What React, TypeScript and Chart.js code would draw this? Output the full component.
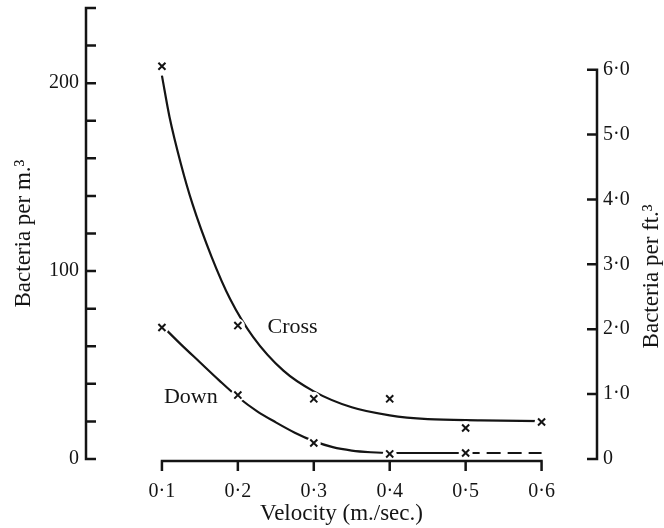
import React, { useEffect, useRef } from "react";
import { Chart, registerables } from "chart.js";
Chart.register(...registerables);

const FONT = "'Liberation Serif', 'Times New Roman', serif";
const INK = "#141414";

// Axis ticks
const velocityTicks = [0.1, 0.2, 0.3, 0.4, 0.5, 0.6];
const leftTicks = [0, 20, 40, 60, 80, 100, 120, 140, 160, 180, 200, 220, 240];
const rightTicks = [0, 1, 2, 3, 4, 5, 6];

// Observed points (x marks)
const crossVel = [0.1, 0.2, 0.3, 0.4, 0.5, 0.6];
const crossObs = [209, 71, 32, 32, 16.5, 19.7];
const downVel = [0.1, 0.2, 0.3, 0.4, 0.5];
const downObs = [70, 34, 8.5, 2.7, 3.2];

// Fitted curves
const crossCurveVel = [0.1, 0.11, 0.125, 0.14, 0.165, 0.19, 0.22, 0.26, 0.3, 0.35, 0.4, 0.45, 0.52, 0.6];
const crossCurveVal = [204, 182, 157, 136, 108, 85, 65, 47, 36, 27.5, 23.2, 21.2, 20.6, 20.2];
const downCurveVel = [0.1, 0.125, 0.15, 0.175, 0.2, 0.225, 0.25, 0.275, 0.3, 0.325, 0.35, 0.375, 0.4, 0.45, 0.5];
const downCurveVal = [71, 61, 51.5, 42, 33, 25.5, 19.5, 14, 9.5, 6.3, 4.5, 3.6, 3.2, 3.2, 3.2];
const downDashVel = [0.5, 0.6];
const downDashVal = [3.2, 3.2];

// Curve labels
const curveLabels = ["Cross", "Down"];
const curveLabelVel = [0.272, 0.138];
const curveLabelVal = [70, 33];

const xy = (xs: number[], ys: number[]) => xs.map((x, i) => ({ x, y: ys[i] }));
const dotted = (v: number) => v.toFixed(1).replace(".", "\u00B7");

const framePlugin = {
  id: "frame",
  afterDraw(chart: any) {
    const { ctx, chartArea, scales } = chart;
    const x = scales.x, y = scales.y, y1 = scales.y1;
    ctx.save();
    ctx.strokeStyle = INK;
    ctx.lineWidth = 2.5;
    ctx.lineCap = "butt";
    const L = chartArea.left;
    const R = chartArea.right;
    ctx.beginPath();
    // left axis
    ctx.moveTo(L, y.getPixelForValue(0) + 1.2);
    ctx.lineTo(L, y.getPixelForValue(240) - 1.2);
    leftTicks.forEach((v) => {
      const p = y.getPixelForValue(v);
      ctx.moveTo(L, p);
      ctx.lineTo(L + 10, p);
    });
    // right axis
    ctx.moveTo(R, y1.getPixelForValue(0) + 1.2);
    ctx.lineTo(R, y1.getPixelForValue(6) - 1.2);
    rightTicks.forEach((v) => {
      const p = y1.getPixelForValue(v);
      ctx.moveTo(R, p);
      ctx.lineTo(R - 10, p);
    });
    // bottom axis
    const yb = y.getPixelForValue(0) + 2;
    ctx.moveTo(x.getPixelForValue(0.1) - 1.2, yb);
    ctx.lineTo(x.getPixelForValue(0.6) + 1.2, yb);
    velocityTicks.forEach((v) => {
      const p = x.getPixelForValue(v);
      ctx.moveTo(p, yb);
      ctx.lineTo(p, yb + 10);
    });
    ctx.stroke();

    // curve labels
    ctx.fillStyle = INK;
    ctx.font = `22px ${FONT}`;
    ctx.textAlign = "center";
    ctx.textBaseline = "middle";
    curveLabels.forEach((t, i) => {
      ctx.fillText(t, x.getPixelForValue(curveLabelVel[i]), y.getPixelForValue(curveLabelVal[i]));
    });

    // right axis title (reads bottom to top)
    ctx.font = `23px ${FONT}`;
    ctx.translate(652, (y1.getPixelForValue(0) + y1.getPixelForValue(6)) / 2 + 12);
    ctx.rotate(-Math.PI / 2);
    ctx.fillText("Bacteria per ft.\u00B3", 0, 0);
    ctx.restore();
  },
};

const noPad = (s: any) => {
  s.paddingTop = 0;
  s.paddingBottom = 0;
  s.paddingLeft = 0;
  s.paddingRight = 0;
};

export default function App() {
  const ref = useRef<HTMLCanvasElement | null>(null);
  useEffect(() => {
    document.body.style.margin = "0";
    const canvas = ref.current;
    if (!canvas) return;
    const mark = {
      showLine: false,
      pointStyle: "crossRot",
      pointRadius: 5,
      pointBorderWidth: 2,
      pointBorderColor: INK,
      order: 0,
    };
    const halo = {
      showLine: false,
      pointStyle: "circle",
      pointRadius: 7,
      pointBorderWidth: 0,
      pointBackgroundColor: "#ffffff",
      order: 1,
    };
    const curve = {
      borderColor: INK,
      borderWidth: 2.2,
      pointRadius: 0,
      cubicInterpolationMode: "monotone",
      order: 2,
    };
    const chart = new Chart(canvas, {
      type: "line",
      data: {
        datasets: [
          { label: "Cross obs", data: xy(crossVel, crossObs), ...mark },
          { label: "Down obs", data: xy(downVel, downObs), ...mark },
          { label: "halo cross", data: xy(crossVel, crossObs), ...halo },
          { label: "halo down", data: xy(downVel, downObs), ...halo },
          { label: "Cross", data: xy(crossCurveVel, crossCurveVal), ...curve },
          { label: "Down", data: xy(downCurveVel, downCurveVal), ...curve },
          { label: "Down dashed", data: xy(downDashVel, downDashVal), ...curve, borderDash: [14, 7] },
        ],
      },
      options: {
        responsive: false,
        animation: false,
        events: [],
        layout: { padding: { top: 8, left: 0, right: 0, bottom: 0 } },
        plugins: { legend: { display: false }, tooltip: { enabled: false } },
        scales: {
          x: {
            type: "linear",
            min: 0,
            max: 0.673,
            afterBuildTicks: (s: any) => {
              s.ticks = velocityTicks.map((v) => ({ value: v }));
            },
            afterFit: (s: any) => {
              s.height = 69;
              noPad(s);
            },
            grid: { display: false, drawTicks: false },
            border: { display: false },
            ticks: {
              padding: 21,
              color: INK,
              font: { family: FONT, size: 20 },
              callback: (v: any) => dotted(Number(v)),
              maxRotation: 0,
              autoSkip: false,
            },
            title: {
              display: true,
              text: "Velocity (m./sec.)",
              color: INK,
              font: { family: FONT, size: 23 },
              padding: { top: 0, bottom: 0 },
            },
          },
          y: {
            type: "linear",
            position: "left",
            min: 0,
            max: 240,
            afterBuildTicks: (s: any) => {
              s.ticks = leftTicks.map((v) => ({ value: v }));
            },
            afterFit: (s: any) => {
              s.width = 86;
              noPad(s);
            },
            grid: { display: false, drawTicks: false },
            border: { display: false },
            ticks: {
              padding: 7,
              color: INK,
              font: { family: FONT, size: 20 },
              callback: (v: any) => (Number(v) % 100 === 0 ? String(v) : ""),
              autoSkip: false,
            },
            title: {
              display: true,
              text: "Bacteria per m.\u00B3",
              color: INK,
              font: { family: FONT, size: 23 },
              padding: { top: 10, bottom: 0 },
            },
          },
          y1: {
            type: "linear",
            position: "right",
            min: 0,
            max: 6.95,
            afterBuildTicks: (s: any) => {
              s.ticks = rightTicks.map((v) => ({ value: v }));
            },
            afterFit: (s: any) => {
              s.width = 67;
              noPad(s);
            },
            grid: { display: false, drawTicks: false },
            border: { display: false },
            ticks: {
              padding: 6,
              color: INK,
              font: { family: FONT, size: 20 },
              callback: (v: any) => (Number(v) === 0 ? "0" : dotted(Number(v))),
              autoSkip: false,
            },
          },
        },
      },
      plugins: [framePlugin],
    } as any);
    return () => chart.destroy();
  }, []);
  return (
    <div style={{ width: 664, height: 528 }}>
      <canvas ref={ref} width={664} height={528} style={{ display: "block" }} />
    </div>
  );
}
